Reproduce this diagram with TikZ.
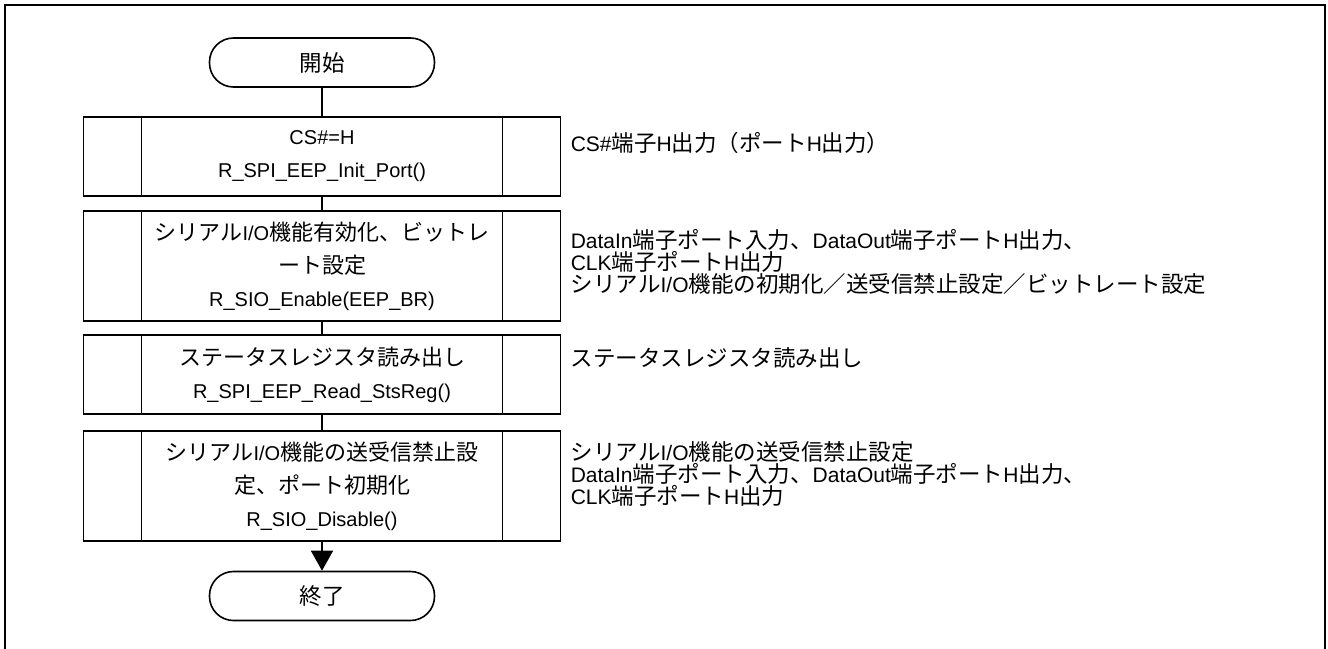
\documentclass[tikz,border=0pt]{standalone}
\usepackage{fontspec}
\setmainfont{Liberation Sans}
\newfontfamily\jp{Noto Sans CJK JP}
\newcommand{\jr}[1]{{\jp\fontsize{22.5}{22}\selectfont #1}}
\newcommand{\jb}[1]{{\jp\fontsize{22}{33}\selectfont #1}}
\usetikzlibrary{arrows.meta}
\begin{document}
\begin{tikzpicture}[x=1pt,y=-1pt,
  line width=1.6pt,
  every node/.style={font=\fontsize{20}{22}\selectfont},
  term/.style={draw, rounded corners=24pt, minimum width=225pt, minimum height=49pt, inner sep=0pt},
  subproc/.style={draw, minimum width=477pt, inner sep=0pt, align=center,
    font=\fontsize{20}{33}\selectfont,
    path picture={
      \draw ([xshift=58pt]path picture bounding box.north west) -- ([xshift=58pt]path picture bounding box.south west);
      \draw ([xshift=-58pt]path picture bounding box.north east) -- ([xshift=-58pt]path picture bounding box.south east);}},
  note/.style={anchor=west, align=left, inner sep=0pt, font=\fontsize{21}{22}\selectfont},
  frame/.style={line width=2pt}]
\useasboundingbox (0,0) rectangle (1328,648);
\draw[frame] (5,652) -- (5,5) -- (1325,5) -- (1325,652);

\node[term] (start) at (322,62.5) {\jr{開始}};
\node[subproc, minimum height=79pt] (b1) at (322,156.5) {CS\#=H\\R\_SPI\_EEP\_Init\_Port()};
\node[subproc, minimum height=110pt] (b2) at (322,266) {\jb{シリアル}I/O\jb{機能有効化、ビットレ}\\\jb{ート設定}\\R\_SIO\_Enable(EEP\_BR)};
\node[subproc, minimum height=79pt] (b3) at (322,374.5) {\jb{ステータスレジスタ読み出し}\\R\_SPI\_EEP\_Read\_StsReg()};
\node[subproc, minimum height=110pt] (b4) at (322,486) {\jb{シリアル}I/O\jb{機能の送受信禁止設}\\\jb{定、ポート初期化}\\R\_SIO\_Disable()};
\node[term] (end) at (322,596) {\jr{終了}};

\draw (start) -- (b1);
\draw (b1) -- (b2);
\draw (b2) -- (b3);
\draw (b3) -- (b4);
\draw[-{Triangle[width=22pt,length=20pt]}] (b4) -- (end);

\node[note] (n1) at (570,143) {CS\#\jr{端子}H\jr{出力（ポート}H\jr{出力）}};
\node[note] (n2) at (570,262) {DataIn\jr{端子ポート入力、}DataOut\jr{端子ポート}H\jr{出力、}\\CLK\jr{端子ポート}H\jr{出力}\\\jr{シリアル}I/O\jr{機能の初期化／送受信禁止設定／ビットレート設定}};
\node[note] (n3) at (570,358) {\jr{ステータスレジスタ読み出し}};
\node[note] (n4) at (570,474) {\jr{シリアル}I/O\jr{機能の送受信禁止設定}\\DataIn\jr{端子ポート入力、}DataOut\jr{端子ポート}H\jr{出力、}\\CLK\jr{端子ポート}H\jr{出力}};
\end{tikzpicture}
\end{document}
